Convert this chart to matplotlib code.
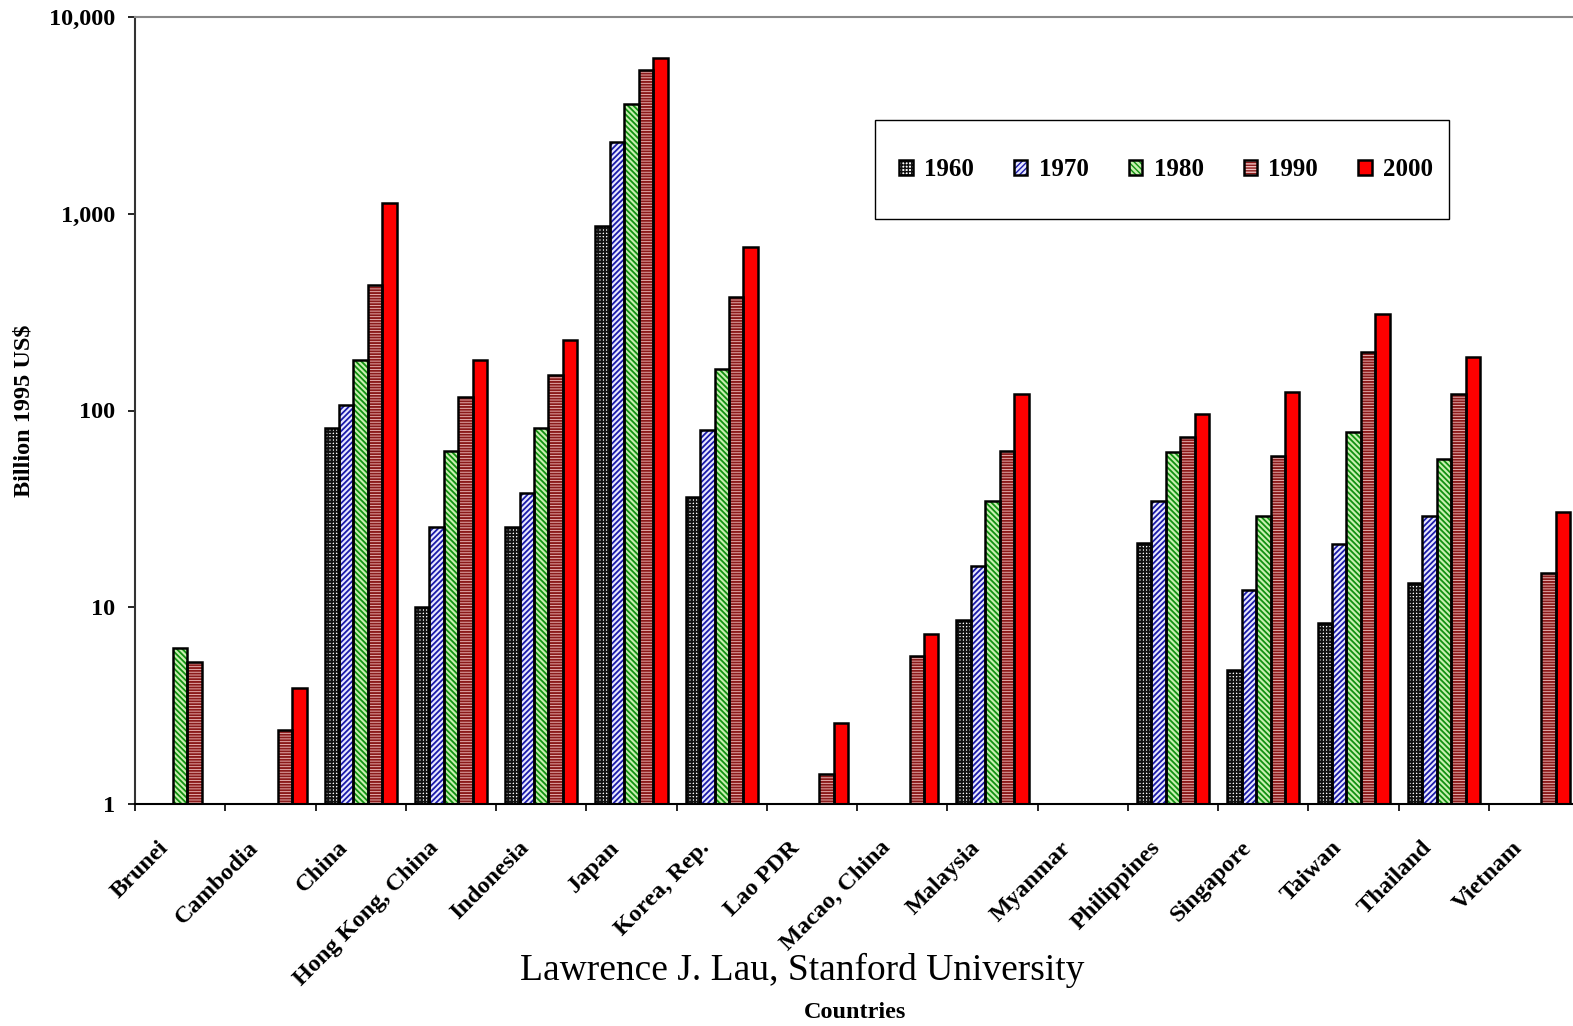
import numpy as np
import matplotlib
matplotlib.use("Agg")
import matplotlib.pyplot as plt
from matplotlib.patches import Patch, Rectangle
from matplotlib.legend_handler import HandlerTuple
from matplotlib.ticker import FixedLocator, FixedFormatter
from matplotlib.transforms import ScaledTranslation

plt.rcParams['font.family'] = ['Liberation Serif', 'DejaVu Serif']
plt.rcParams['font.weight'] = 'bold'

countries = ["Brunei", "Cambodia", "China", "Hong Kong, China", "Indonesia",
             "Japan", "Korea, Rep.", "Lao PDR", "Macao, China", "Malaysia",
             "Myanmar", "Philippines", "Singapore", "Taiwan", "Thailand", "Vietnam"]
years = ["1960", "1970", "1980", "1990", "2000"]

# billion 1995 US$, None = no data
gdp_1960 = [None, None, 81.5, 10.0, 25.6, 866, 36.3, None, None, 8.6,
            None, 21.2, 4.8, 8.3, 13.3, None]
gdp_1970 = [None, None, 107, 25.6, 38.1, 2316, 79.6, None, None, 16.2,
            None, 34.7, 12.2, 21.0, 29.1, None]
gdp_1980 = [6.2, None, 181, 62.3, 81.5, 3615, 162, None, None, 34.7,
            None, 61.5, 29.1, 77.8, 56.7, None]
gdp_1990 = [5.27, 2.38, 434, 117, 151, 5383, 377, 1.42, 5.65, 62.3,
            None, 73.3, 58.7, 198, 121, 14.9]
gdp_2000 = [None, 3.89, 1135, 180, 228, 6190, 678, 2.58, 7.31, 121,
            None, 96, 124, 309, 187, 30.5]
series = [gdp_1960, gdp_1970, gdp_1980, gdp_1990, gdp_2000]

# face colour, hatch colour, hatch pattern, hatch linewidth
styles = [
    ("white", "#111111", "+++++", 1.4),
    ("#e8e8ff", "#1a1aa8", "//////", 1.3),
    ("#c8f0b0", "#109010", "\\\\\\\\\\\\", 1.3),
    ("#f0c0c0", "#8b1a1a", "------", 1.4),
    ("#ff0000", "#ff0000", "", 1.0),
]

fig = plt.figure(figsize=(15.73, 10.26), dpi=100)
ax = fig.add_axes([135 / 1573, 1 - 804 / 1026, 1444.3 / 1573, 787 / 1026])
ax.set_yscale("log")

x = np.arange(len(countries))
w = 0.16
handles = []
for k, (vals, (face, hcol, hatch, hlw)) in enumerate(zip(series, styles)):
    idx = [i for i, v in enumerate(vals) if v is not None]
    v = np.array([vals[i] for i in idx], dtype=float)
    xs = x[idx] + (k - 2) * w
    with plt.rc_context({'hatch.linewidth': hlw}):
        ax.bar(xs, v - 1, bottom=1, width=w, facecolor=face, edgecolor=hcol,
               hatch=hatch, linewidth=0, zorder=2)
        hp = Patch(facecolor=face, edgecolor=hcol, hatch=hatch, linewidth=0)
    ax.bar(xs, v - 1, bottom=1, width=w, fill=False, edgecolor="black",
           linewidth=1.8, zorder=3)
    op = Patch(fill=False, edgecolor="black", linewidth=1.8)
    handles.append((hp, op))

ax.set_xlim(-0.5, len(countries) - 0.5)
ax.set_ylim(1, 10000)

ax.yaxis.set_major_locator(FixedLocator([1, 10, 100, 1000, 10000]))
ax.yaxis.set_major_formatter(FixedFormatter(["1", "10", "100", "1,000", "10,000"]))
ax.yaxis.set_minor_locator(FixedLocator([]))
ax.tick_params(axis="y", which="major", length=5, width=1.2, pad=9,
               labelsize=17.5, direction="out")

ax.set_xticks(np.arange(len(countries) + 1) - 0.5)
ax.set_xticklabels([])
ax.set_xticks(x, minor=True)
ax.set_xticklabels(countries, minor=True, rotation=45, ha="right", va="top",
                   fontsize=17.5, fontweight="bold")
ax.tick_params(axis="x", which="major", length=5, width=1.2, direction="out")
ax.tick_params(axis="x", which="minor", length=0, pad=24)
shift = ScaledTranslation(-8 / 100, 0, fig.dpi_scale_trans)
for lab in ax.get_xticklabels(minor=True):
    lab.set_transform(lab.get_transform() + shift)

ax.spines["right"].set_visible(False)
ax.spines["top"].set_color("#888888")
ax.spines["top"].set_linewidth(1.5)
ax.spines["left"].set_color("#333333")
ax.spines["left"].set_linewidth(1.5)
ax.spines["bottom"].set_color("black")
ax.spines["bottom"].set_linewidth(1.5)

# legend box
fig.patches.append(Rectangle((875 / 1573, 1 - 219 / 1026), 574 / 1573, 99 / 1026,
                             transform=fig.transFigure, fill=False,
                             edgecolor="black", linewidth=1.0))
fig.legend(handles, years, loc="center", bbox_to_anchor=(1166 / 1573, 1 - 170 / 1026),
           ncol=5, frameon=False, fontsize=18, handlelength=0.55, handleheight=0.55,
           handletextpad=0.45, columnspacing=1.6,
           handler_map={tuple: HandlerTuple(ndivide=1, pad=0)})

fig.text(24 / 1573, 1 - 411 / 1026, "Billion 1995 US$", rotation=90,
         ha="center", va="center", fontsize=17.5, fontweight="bold")
fig.text(855 / 1573, 1 - 1012 / 1026, "Countries", ha="center", va="center",
         fontsize=17.5, fontweight="bold")
fig.text(802 / 1573, 1 - 970 / 1026, "Lawrence J. Lau, Stanford University",
         ha="center", va="center", fontsize=27, fontweight="normal")

fig.savefig("out.png", dpi=100)
